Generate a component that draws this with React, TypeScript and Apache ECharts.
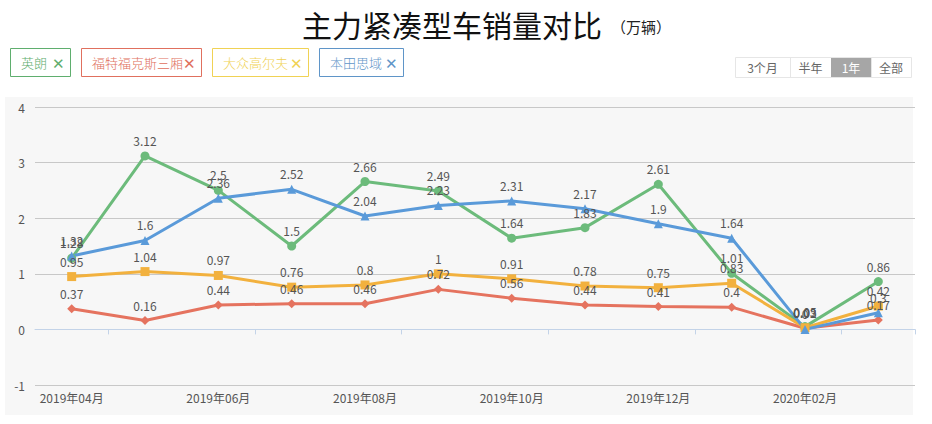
import React, { useEffect, useRef } from "react";
import * as echarts from "echarts";

const months = ["2019年04月", "2019年05月", "2019年06月", "2019年07月", "2019年08月", "2019年09月", "2019年10月", "2019年11月", "2019年12月", "2020年01月", "2020年02月", "2020年03月"];
const yinglang = [1.28, 3.12, 2.5, 1.5, 2.66, 2.49, 1.64, 1.83, 2.61, 1.01, 0.05, 0.86];
const focus = [0.37, 0.16, 0.44, 0.46, 0.46, 0.72, 0.56, 0.44, 0.41, 0.4, 0.02, 0.17];
const golf = [0.95, 1.04, 0.97, 0.76, 0.8, 1, 0.91, 0.78, 0.75, 0.83, 0.03, 0.42];
const civic = [1.32, 1.6, 2.36, 2.52, 2.04, 2.23, 2.31, 2.17, 1.9, 1.64, 0, 0.3];
const seriesNames = ["英朗", "福特福克斯三厢", "大众高尔夫", "本田思域"];
const rangeButtons = ["3个月", "半年", "1年", "全部"];
const titleText = "主力紧凑型车销量对比";
const unitText = "（万辆）";

const FONT = "'Noto Sans CJK SC', 'Noto Sans', sans-serif";
const colors = ["#6cbb7b", "#e5735f", "#f2b13e", "#5a9ad9"];
const legendColors = ["#5fae6e", "#e0705e", "#f0d255", "#5f95c8"];
const symbols = ["circle", "diamond", "rect", "triangle"];
const seriesData = [yinglang, focus, golf, civic];

export default function App() {
  const ref = useRef<HTMLDivElement>(null);
  useEffect(() => {
    if (!ref.current) return;
    const chart = echarts.init(ref.current, undefined, { renderer: "svg" });

    const legendBoxes = [
      { x: 10, w: 60 },
      { x: 81, w: 120 },
      { x: 212, w: 96 },
      { x: 319, w: 84 },
    ];
    const legendGraphics: any[] = [];
    seriesNames.forEach((n, i) => {
      const b = legendBoxes[i];
      legendGraphics.push({
        type: "rect",
        shape: { x: b.x + 0.5, y: 48.5, width: b.w, height: 28 },
        style: { fill: "#fff", stroke: legendColors[i], lineWidth: 1 },
        z: 10,
      });
      legendGraphics.push({
        type: "text",
        x: b.x + 11,
        y: 62.5,
        style: { text: n, fill: legendColors[i], font: `300 13px ${FONT}`, verticalAlign: "middle" },
        z: 11,
      });
      legendGraphics.push({
        type: "text",
        x: b.x + b.w - 18,
        y: 62.5,
        style: { text: "✕", fill: legendColors[i], font: `15px ${FONT}`, verticalAlign: "middle" },
        z: 11,
      });
    });

    const btnX = [735, 790, 831, 871, 911];
    const btnGraphics: any[] = [
      {
        type: "rect",
        shape: { x: 735.5, y: 57.5, width: 176, height: 20 },
        style: { fill: "#fff", stroke: "#e6e6e6", lineWidth: 1 },
        z: 10,
      },
    ];
    rangeButtons.forEach((t, i) => {
      const x0 = btnX[i];
      const x1 = btnX[i + 1];
      if (i === 2) {
        btnGraphics.push({
          type: "rect",
          shape: { x: x0, y: 58, width: x1 - x0, height: 19 },
          style: { fill: "#a6a6a6" },
          z: 11,
        });
      } else if (i > 0) {
        btnGraphics.push({
          type: "line",
          shape: { x1: x0 + 0.5, y1: 58, x2: x0 + 0.5, y2: 77 },
          style: { stroke: "#e6e6e6", lineWidth: 1 },
          z: 11,
        });
      }
      btnGraphics.push({
        type: "text",
        x: (x0 + x1) / 2,
        y: 67.5,
        style: {
          text: t,
          fill: i === 2 ? "#fff" : "#666",
          font: `12px ${FONT}`,
          align: "center",
          verticalAlign: "middle",
        },
        z: 12,
      });
    });

    chart.setOption({
      animation: false,
      backgroundColor: "#fff",
      textStyle: { fontFamily: FONT },
      graphic: [
        {
          type: "rect",
          shape: { x: 5, y: 97, width: 908, height: 318 },
          style: { fill: "#f7f7f7" },
          z: -10,
          silent: true,
        },
        {
          type: "text",
          x: 452,
          y: 24,
          style: { text: titleText, fill: "#111", font: `400 30px ${FONT}`, align: "center", verticalAlign: "middle" },
        },
        {
          type: "text",
          x: 611,
          y: 26,
          style: { text: unitText, fill: "#222", font: `15px ${FONT}`, verticalAlign: "middle" },
        },
        ...legendGraphics,
        ...btnGraphics,
      ],
      grid: { left: 35, right: 17, top: 107, bottom: 39 },
      xAxis: {
        type: "category",
        data: months,
        boundaryGap: true,
        axisLine: { lineStyle: { color: "#c3d3e8", width: 1 } },
        axisTick: {
          show: true,
          length: 5,
          interval: (idx: number) => idx % 2 === 1,
          lineStyle: { color: "#c3d3e8" },
        },
        axisLabel: { interval: 1, color: "#555", fontSize: 12, margin: 6, fontFamily: FONT },
        splitLine: { show: false },
      },
      yAxis: {
        type: "value",
        min: -1,
        max: 4,
        interval: 1,
        axisLine: { show: false },
        axisTick: { show: false },
        axisLabel: { color: "#555", fontSize: 12, margin: 10, fontFamily: FONT },
        splitLine: { lineStyle: { color: "#c8c8c8", width: 1 } },
      },
      series: seriesNames.map((n, i) => ({
        name: n,
        type: "line",
        data: seriesData[i],
        symbol: symbols[i],
        symbolSize: 9,
        showSymbol: true,
        lineStyle: { color: colors[i], width: 3 },
        itemStyle: { color: colors[i] },
        label: {
          show: true,
          position: "top",
          distance: 5,
          color: "#555",
          fontSize: 12,
          fontFamily: FONT,
        },
      })),
    });
    return () => chart.dispose();
  }, []);
  return (
    <div
      ref={ref}
      style={{ position: "absolute", left: 0, top: 0, width: 932, height: 424 }}
    />
  );
}
